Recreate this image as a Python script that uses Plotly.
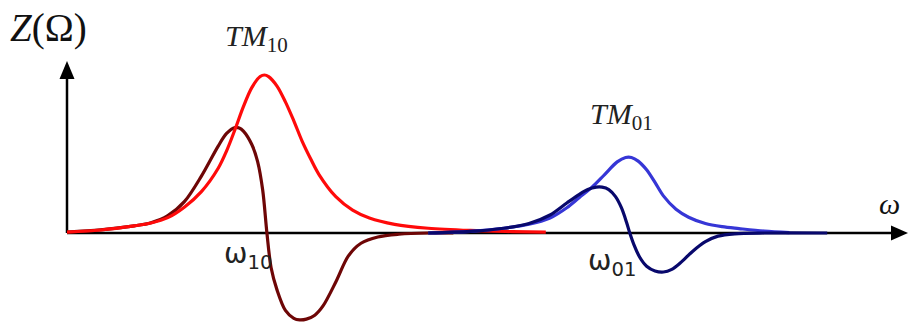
import plotly.graph_objects as go

# Frequency samples (arbitrary units) and impedance curves for the two modes
w_tm10_re = [0.0, 0.4, 0.8, 1.0, 1.2, 1.4, 1.6, 1.8, 1.9, 2.0, 2.1, 2.2, 2.3, 2.35, 2.4,
             2.5, 2.6, 2.7, 2.8, 2.9, 3.0, 3.2, 3.4, 3.6, 3.9, 4.3, 4.8, 5.3, 5.7]
z_tm10_re = [0.006, 0.019, 0.045, 0.063, 0.097, 0.165, 0.262, 0.41, 0.52, 0.655, 0.80, 0.92,
             0.99, 1.0, 0.99, 0.93, 0.83, 0.71, 0.58, 0.47, 0.37, 0.23, 0.145, 0.095, 0.055,
             0.03, 0.016, 0.009, 0.005]

w_tm10_im = [0.0, 0.4, 0.8, 1.0, 1.2, 1.4, 1.6, 1.8, 1.9, 2.0, 2.05, 2.1, 2.2, 2.27, 2.33,
             2.38, 2.43, 2.5, 2.6, 2.7, 2.77, 2.85, 2.95, 3.05, 3.2, 3.35, 3.5, 3.7, 3.95,
             4.3, 4.6]
z_tm10_im = [0.006, 0.02, 0.045, 0.065, 0.11, 0.20, 0.36, 0.55, 0.63, 0.668, 0.665, 0.645,
             0.56, 0.45, 0.27, 0.0, -0.22, -0.36, -0.49, -0.54, -0.55, -0.545, -0.52, -0.46,
             -0.31, -0.145, -0.065, -0.025, -0.008, 0.0, 0.0]

w_tm01_re = [4.3, 4.8, 5.2, 5.5, 5.75, 5.95, 6.1, 6.25, 6.4, 6.55, 6.65, 6.72, 6.8, 6.9,
             7.0, 7.1, 7.25, 7.4, 7.6, 7.8, 8.0, 8.3, 8.6]
z_tm01_re = [0.0, 0.01, 0.03, 0.055, 0.095, 0.16, 0.225, 0.29, 0.37, 0.45, 0.478, 0.478,
             0.455, 0.40, 0.32, 0.235, 0.15, 0.10, 0.06, 0.04, 0.028, 0.012, 0.003]

w_tm01_im = [4.3, 4.8, 5.2, 5.5, 5.75, 5.95, 6.1, 6.2, 6.3, 6.37, 6.45, 6.53, 6.6, 6.66,
             6.7, 6.75, 6.82, 6.9, 7.0, 7.1, 7.2, 7.3, 7.45, 7.6, 7.75, 7.95, 8.3, 9.05]
z_tm01_im = [0.0, 0.01, 0.03, 0.06, 0.114, 0.19, 0.245, 0.275, 0.29, 0.29, 0.275, 0.23,
             0.16, 0.07, 0.0, -0.075, -0.155, -0.21, -0.24, -0.247, -0.23, -0.19, -0.115,
             -0.055, -0.02, -0.005, 0.0, 0.0]

# Canvas geometry: origin of the drawn axes and scale of one unit
W, H = 909, 323
X0, Y0 = 67, 233
SX, SY = 84.0, 158.0


def px(xp):
    return (xp - X0) / SX


def py(yp):
    return (Y0 - yp) / SY


fig = go.Figure()

curves = [
    (w_tm10_im, z_tm10_im, "#6e0606"),
    (w_tm10_re, z_tm10_re, "#ff0a0a"),
    (w_tm01_re, z_tm01_re, "#3636d6"),
    (w_tm01_im, z_tm01_im, "#08086c"),
]
for xs, ys, col in curves:
    fig.add_trace(go.Scatter(
        x=xs, y=ys, mode="lines",
        line=dict(color=col, width=3.2, shape="spline", smoothing=0.9),
        hoverinfo="skip", showlegend=False,
    ))

# Axes drawn as arrows
axis_col = "#000000"
fig.add_shape(type="line", x0=px(X0), y0=0, x1=px(894), y1=0,
              line=dict(color=axis_col, width=2.5), layer="below")
fig.add_shape(type="path",
              path=f"M {px(908)},{py(Y0)} L {px(891)},{py(Y0 - 7.5)} L {px(891)},{py(Y0 + 7.5)} Z",
              fillcolor=axis_col, line=dict(width=0), layer="below")
fig.add_shape(type="line", x0=0, y0=0, x1=0, y1=py(76),
              line=dict(color=axis_col, width=2.5), layer="below")
fig.add_shape(type="path",
              path=f"M {px(X0)},{py(61)} L {px(X0 - 7.5)},{py(79)} L {px(X0 + 7.5)},{py(79)} Z",
              fillcolor=axis_col, line=dict(width=0), layer="below")

serif = "Liberation Serif"
sans = "DejaVu Sans"
labels = [
    ("<i>Z</i>(Ω)", 48, 28, serif, 39, "#111111"),
    ("<i>TM</i><sub>10</sub>", 256, 38, serif, 30, "#222222"),
    ("<i>TM</i><sub>01</sub>", 621, 116, serif, 30, "#222222"),
    ("<i>ω</i>", 889, 203, serif, 30, "#111111"),
    ("ω<sub>10</sub>", 248, 255, sans, 28, "#222222"),
    ("ω<sub>01</sub>", 612, 262, sans, 28, "#222222"),
]
for txt, xp, yp, fam, size, col in labels:
    fig.add_annotation(x=px(xp), y=py(yp), xref="x", yref="y", text=txt,
                       showarrow=False, xanchor="center", yanchor="middle",
                       font=dict(family=fam, size=size, color=col))

fig.update_layout(
    width=W, height=H,
    margin=dict(l=0, r=0, t=0, b=0),
    paper_bgcolor="white", plot_bgcolor="white",
    xaxis=dict(range=[px(0), px(W)], visible=False, fixedrange=True),
    yaxis=dict(range=[py(H), py(0)], visible=False, fixedrange=True),
)

fig.write_html("out.html")
